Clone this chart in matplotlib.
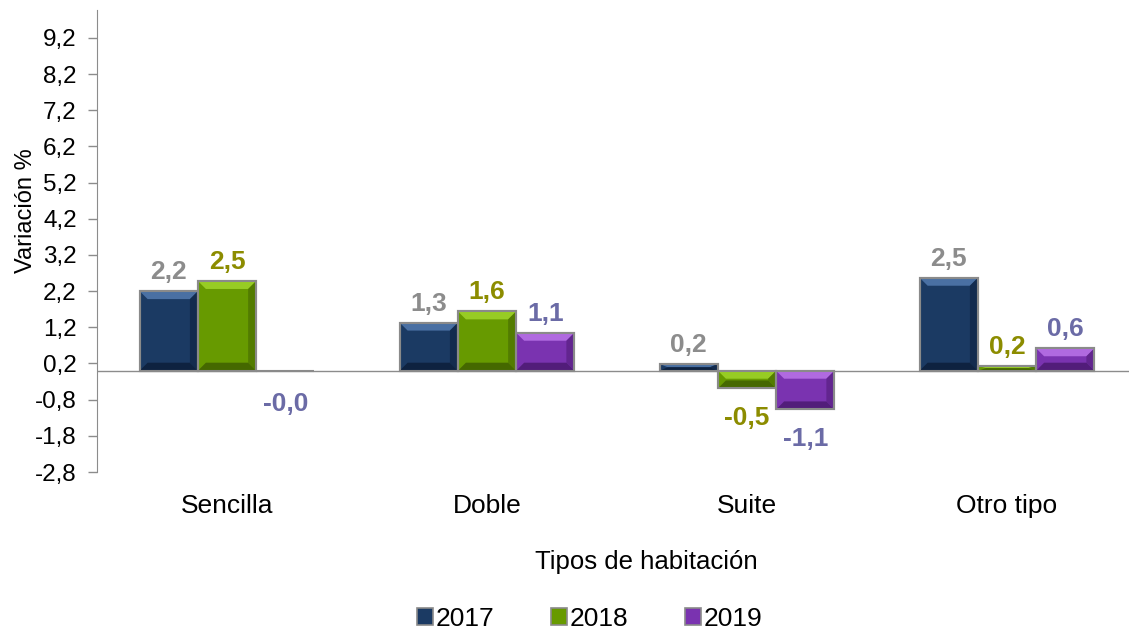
import matplotlib
matplotlib.use("Agg")
import matplotlib.pyplot as plt
import numpy as np
from matplotlib.patches import Polygon, Patch

plt.rcParams['font.family'] = ['Liberation Sans', 'DejaVu Sans']

categories = ["Sencilla", "Doble", "Suite", "Otro tipo"]
series_names = ["2017", "2018", "2019"]
values_2017 = [2.20, 1.33, 0.19, 2.57]
values_2018 = [2.48, 1.64, -0.49, 0.14]
values_2019 = [-0.02, 1.05, -1.07, 0.62]
labels_2017 = ["2,2", "1,3", "0,2", "2,5"]
labels_2018 = ["2,5", "1,6", "-0,5", "0,2"]
labels_2019 = ["-0,0", "1,1", "-1,1", "0,6"]
yticks = [-2.8, -1.8, -0.8, 0.2, 1.2, 2.2, 3.2, 4.2, 5.2, 6.2, 7.2, 8.2, 9.2]
ytick_labels = ["-2,8", "-1,8", "-0,8", "0,2", "1,2", "2,2", "3,2", "4,2", "5,2", "6,2", "7,2", "8,2", "9,2"]

colors = ["#1B3A63", "#679A00", "#7A33B0"]
light = ["#4A70A3", "#97CC24", "#B06AE0"]
dark = ["#0E2240", "#456800", "#521D7A"]
label_colors = ["#8C8C8C", "#8C8C00", "#6B6BA6"]

fig = plt.figure(figsize=(11.29, 6.32), dpi=100)
W, H = 1129, 632
ax = fig.add_axes([97 / W, 1 - 472 / H, (1137 - 97) / W, (472 - 10) / H])

x = np.arange(len(categories))
bw = 0.224
all_vals = [values_2017, values_2018, values_2019]
all_labels = [labels_2017, labels_2018, labels_2019]

ax.set_xlim(-0.5, 3.5)
ax.set_ylim(-2.8, 9.97)
ax.axhline(0, color="#8C8C8C", lw=1.0, zorder=1)

fig.canvas.draw()
px_x = (ax.get_xlim()[1] - ax.get_xlim()[0]) / (ax.get_window_extent().width)
px_y = (ax.get_ylim()[1] - ax.get_ylim()[0]) / (ax.get_window_extent().height)
bev = 8

for i, (vals, labs) in enumerate(zip(all_vals, all_labels)):
    bars = ax.bar(x + (i - 1) * bw, vals, bw, color=colors[i], edgecolor="#8A8A8A",
                  linewidth=1.5, zorder=2)
    for b, v, lab in zip(bars, vals, labs):
        x0 = b.get_x(); x1 = x0 + b.get_width()
        y0 = min(b.get_y(), b.get_y() + b.get_height())
        y1 = max(b.get_y(), b.get_y() + b.get_height())
        dx = min(bev * px_x, (x1 - x0) / 2)
        dy = min(bev * px_y, (y1 - y0) / 2)
        if y1 - y0 > 0.02:
            ax.add_patch(Polygon([[x0, y1], [x1, y1], [x1 - dx, y1 - dy], [x0 + dx, y1 - dy]],
                                 closed=True, fc=light[i], ec="none", zorder=3))
            ax.add_patch(Polygon([[x0, y0], [x1, y0], [x1 - dx, y0 + dy], [x0 + dx, y0 + dy]],
                                 closed=True, fc=dark[i], ec="none", zorder=3))
            ax.add_patch(Polygon([[x1, y0], [x1, y1], [x1 - dx, y1 - dy], [x1 - dx, y0 + dy]],
                                 closed=True, fc=dark[i], ec="none", alpha=0.6, zorder=3))
            ax.add_patch(plt.Rectangle((x0, y0), x1 - x0, y1 - y0, fill=False,
                                       ec="#8A8A8A", lw=1.5, zorder=4))
        if v >= 0:
            ax.annotate(lab, (b.get_x() + b.get_width() / 2, v), xytext=(0, 5),
                        textcoords="offset points", ha="center", va="bottom",
                        fontsize=19, fontweight="bold", color=label_colors[i])
        else:
            ax.annotate(lab, (b.get_x() + b.get_width() / 2, min(v, -0.12)), xytext=(0, -12.5),
                        textcoords="offset points", ha="center", va="top",
                        fontsize=19, fontweight="bold", color=label_colors[i])

ax.set_yticks(yticks)
ax.set_yticklabels(ytick_labels, fontsize=17.5)
ax.set_xticks(x)
ax.set_xticklabels(categories, fontsize=19)
ax.tick_params(axis="x", length=0, pad=16)
ax.tick_params(axis="y", length=6.5, color="#8C8C8C", width=1, pad=8)
for s in ["top", "right", "bottom"]:
    ax.spines[s].set_visible(False)
ax.spines["left"].set_color("#8C8C8C")
ax.set_ylabel("Variación %", fontsize=17)
ax.yaxis.set_label_coords((37 - 97) / 1040, (472 - 211) / 462)
ax.set_xlabel("Tipos de habitación", fontsize=18.5)
ax.xaxis.set_label_coords((646 - 97) / 1040, (472 - 550) / 462)

handles = [Patch(facecolor=colors[i], edgecolor="#8A8A8A", linewidth=1.2) for i in range(3)]
fig.legend(handles, series_names, loc="center", bbox_to_anchor=(590 / W, 1 - 619 / H),
           ncol=3, frameon=False, fontsize=19, handlelength=0.6, handleheight=0.6,
           handletextpad=0.1, columnspacing=2.15)

fig.savefig("out.png", dpi=100)
